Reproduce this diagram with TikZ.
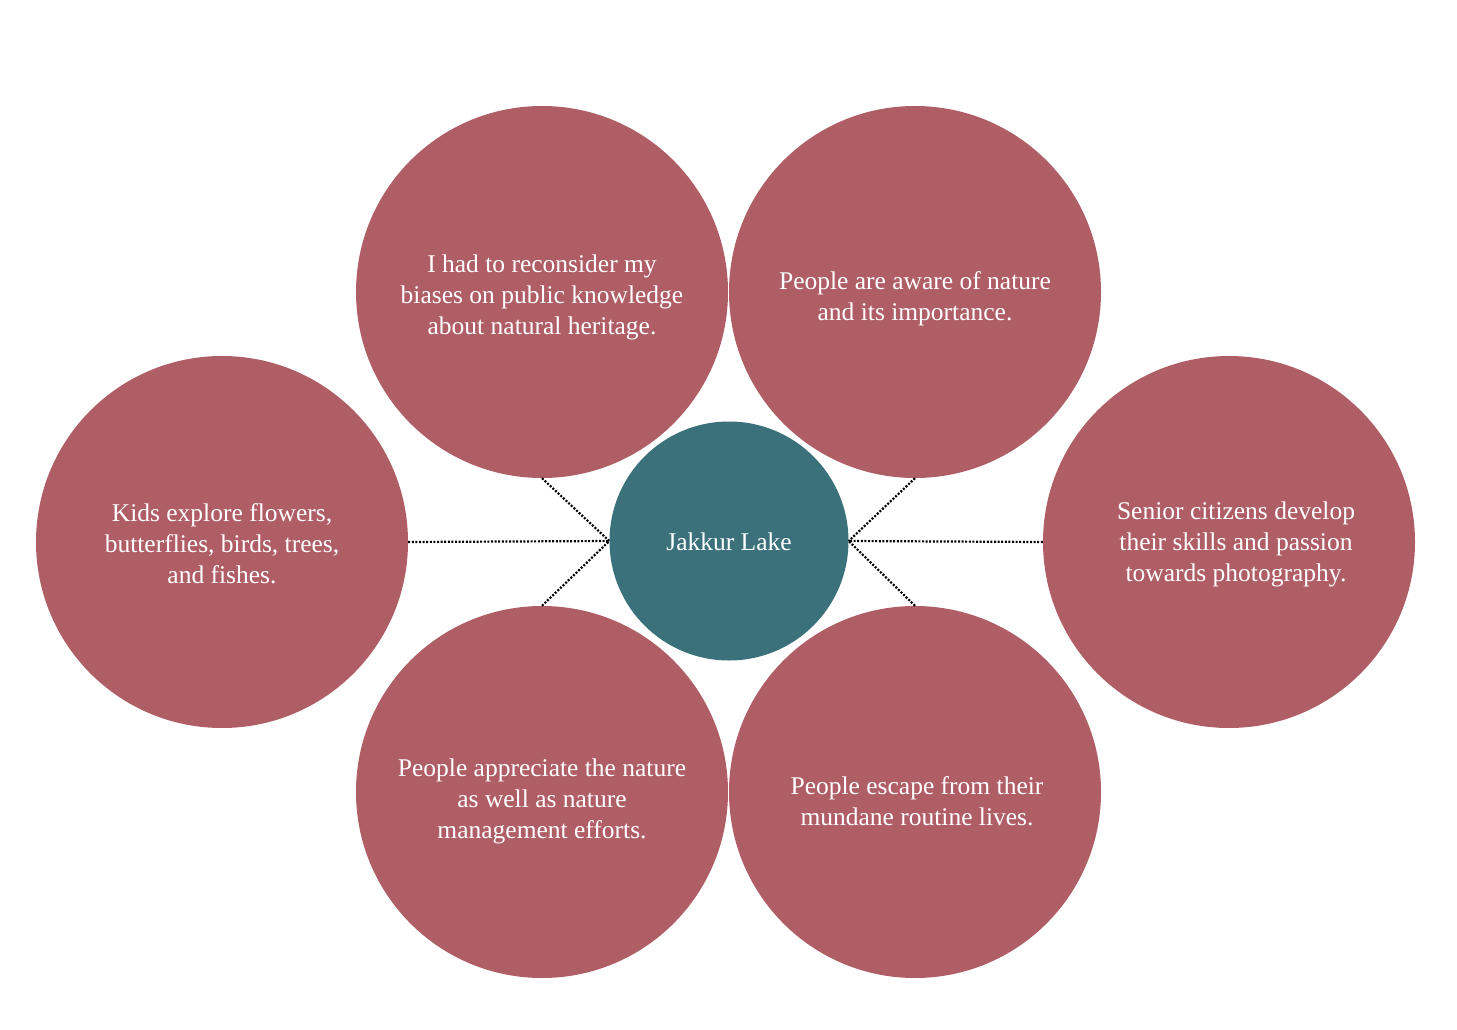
\documentclass[tikz,border=0pt]{standalone}
\usepackage{fontspec}
\setmainfont{Liberation Serif}
\definecolor{rosec}{RGB}{175,94,102}
\definecolor{tealc}{RGB}{59,113,122}
\begin{document}
\begin{tikzpicture}[x=1pt,y=-1pt,
  bubble/.style={circle,fill=rosec,draw=none,minimum size=372pt,inner sep=0pt},
  hub/.style={circle,fill=tealc,draw=none,minimum size=239pt,inner sep=0pt},
  txt/.style={text=white,align=center,font=\fontsize{25.5}{31}\selectfont,inner sep=0pt},
  link/.style={draw=black,line width=2.2pt,dash pattern=on 2pt off 1.6pt}]
\useasboundingbox (0,0) rectangle (1457,1030);
\node[bubble] (tl) at (542,292) {};
\node[bubble] (tr) at (915,292) {};
\node[bubble] (l) at (222,542) {};
\node[bubble] (r) at (1229,542) {};
\node[bubble] (bl) at (542,792) {};
\node[bubble] (br) at (915,792) {};
\node[hub] (c) at (729,541) {};
\draw[link] (l.east) -- (c.west);
\draw[link] (tl.south) -- (c.west);
\draw[link] (bl.north) -- (c.west);
\draw[link] (r.west) -- (c.east);
\draw[link] (tr.south) -- (c.east);
\draw[link] (br.north) -- (c.east);
\node[txt] (ct) at (729,542) {Jakkur Lake};
\node[txt] (tlt) at (542,297) {I had to reconsider my\\biases on public knowledge\\about natural heritage.};
\node[txt] (trt) at (915,299) {People are aware of nature\\and its importance.};
\node[txt] (lt) at (222,544) {Kids explore flowers,\\butterflies, birds, trees,\\and fishes.};
\node[txt] (rt) at (1236,544) {Senior citizens develop\\their skills and passion\\towards photography.};
\node[txt] (blt) at (542,801) {People appreciate the nature\\as well as nature\\management efforts.};
\node[txt] (brt) at (917,801) {People escape from their\\mundane routine lives.};
\end{tikzpicture}
\end{document}
